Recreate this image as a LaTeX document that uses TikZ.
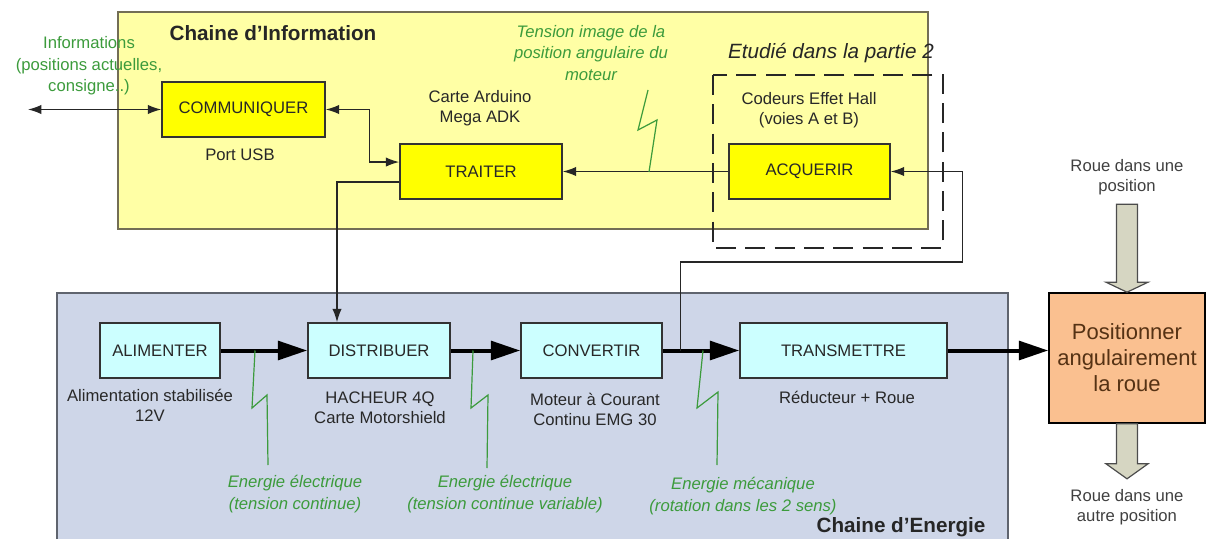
\documentclass[tikz,border=0pt]{standalone}
\usepackage{fontspec}
\setmainfont{Liberation Sans}
\usetikzlibrary{arrows.meta,calc,positioning}

\definecolor{infofill}{RGB}{255,255,165}
\definecolor{infodraw}{RGB}{115,110,85}
\definecolor{boxyellow}{RGB}{255,255,0}
\definecolor{enerfill}{RGB}{206,214,232}
\definecolor{enerdraw}{RGB}{95,100,110}
\definecolor{boxcyan}{RGB}{204,255,255}
\definecolor{boxorange}{RGB}{250,192,144}
\definecolor{txtgreen}{RGB}{60,155,60}
\definecolor{arrgray}{RGB}{214,214,194}
\definecolor{txtdark}{RGB}{40,40,40}
\definecolor{txtbrown}{RGB}{85,50,20}

\tikzset{
  func/.style={draw=black!80, line width=1.2pt, minimum height=41.25pt, inner sep=0pt,
    text=txtdark, font=\fontsize{12.5}{15}\selectfont},
  infobox/.style={func, fill=boxyellow},
  enerbox/.style={func, fill=boxcyan},
  goal/.style={draw=black, line width=1.2pt, fill=boxorange, minimum width=117pt,
    minimum height=97.5pt, align=center, text=txtbrown, font=\fontsize{16.5}{19.5}\selectfont},
  lbl/.style={align=center, text=txtdark, font=\fontsize{12.5}{15}\selectfont},
  glbl/.style={align=center, text=txtgreen, font=\fontsize{12.5}{16}\selectfont\itshape},
  chaintitle/.style={text=black!85, font=\fontsize{15.5}{18}\selectfont\bfseries},
  sig/.style={line width=1pt, draw=black!85},
  power/.style={line width=3pt, draw=black, -{Triangle[length=22pt,width=14pt]}},
  zap/.style={draw=txtgreen, line width=0.9pt},
  blockarr/.style={draw=black!70, line width=0.9pt, fill=arrgray},
}

\begin{document}
\begin{tikzpicture}[x=0.75pt, y={(0pt,-0.75pt)}, >={Latex[length=10pt,width=7pt]}]
  \useasboundingbox (0,0) rectangle (1213,539);

  % chaine d'information
  \draw[fill=infofill, draw=infodraw, line width=1.5pt] (118,12) rectangle (928,229);
  \node[chaintitle] (tinfo) at (273,33) {Chaine d'Information};

  % chaine d'energie (ouverte en bas)
  \fill[enerfill] (57,293) rectangle (1008,539);
  \draw[draw=enerdraw, line width=1.5pt] (57,539) |- (1008,293) -- (1008,539);
  \node[chaintitle] (tener) at (901,527) {Chaine d'Energie};

  % partie 2
  \draw[line width=1.6pt, dash pattern=on 15pt off 7pt, draw=black!85] (713,75) rectangle (943,248);
  \node[lbl, text=black!85, font=\fontsize{15.5}{18}\selectfont\itshape] (part) at (831,53) {Etudié dans la partie 2};

  % blocs
  \node[infobox, minimum width=122.25pt] (comm) at (243.5,109.5) {COMMUNIQUER};
  \node[infobox, minimum width=121.5pt] (traiter) at (481,171.5) {TRAITER};
  \node[infobox, minimum width=120.75pt] (acq) at (809.5,171.5) {ACQUERIR};
  \node[enerbox, minimum width=90pt] (alim) at (160,350.5) {ALIMENTER};
  \node[enerbox, minimum width=106.5pt] (distrib) at (379,350.5) {DISTRIBUER};
  \node[enerbox, minimum width=105.75pt] (conv) at (591.5,350.5) {CONVERTIR};
  \node[enerbox, minimum width=155.25pt] (trans) at (843.5,350.5) {TRANSMETTRE};
  \node[goal] (posit) at (1127,358) {Positionner\\angulairement\\la roue};

  % textes
  \node[glbl, font=\fontsize{12.5}{16}\selectfont] (infos) at (89,66) {Informations\\(positions actuelles,\\consigne..)};
  \node[lbl] (usb) at (240,155) {Port USB};
  \node[lbl] (ardu) at (480,108) {Carte Arduino\\Mega ADK};
  \node[lbl] (hall) at (809,110) {Codeurs Effet Hall\\(voies A et B)};
  \node[glbl] (tens) at (591,53) {Tension image de la\\position angulaire du\\moteur};
  \node[lbl] (alimtxt) at (150,405) {Alimentation stabilisée\\12V};
  \node[lbl] (hach) at (380,408) {HACHEUR 4Q\\Carte Motorshield};
  \node[lbl] (mcc) at (595,409) {Moteur à Courant\\Continu EMG 30};
  \node[lbl] (redu) at (847,397) {Réducteur + Roue};
  \node[glbl] (elec1) at (295,494) {Energie électrique\\(tension continue)};
  \node[glbl] (elec2) at (505,494) {Energie électrique\\(tension continue variable)};
  \node[glbl] (meca) at (743,496) {Energie mécanique\\(rotation dans les 2 sens)};
  \node[lbl, text=black!75] (rin) at (1127,177) {Roue dans une\\position};
  \node[lbl, text=black!75] (rout) at (1127,507) {Roue dans une\\autre position};

  % liaisons information
  \coordinate (ext) at (28,109.5);
  \draw[sig, <->] (ext) -- (comm.west);
  \draw[sig, <->] (comm.east) -- ++(43.5,0) |- ([yshift=7.1pt]traiter.west);
  \draw[sig, ->] ([yshift=-7.9pt]traiter.west) -| ([xshift=-31.5pt]distrib.north);
  \draw[sig, ->] (acq.west) -- (traiter.east);

  % liaisons energie
  \draw[power] (alim.east) -- (distrib.west);
  \draw[power] (distrib.east) -- (conv.west);
  \draw[power] (conv.east) -- (trans.west);
  \draw[power] (trans.east) -- (posit.west |- trans.east);

  % retour codeurs
  \coordinate (fb) at ($(conv.east)!0.23!(trans.west)$);
  \draw[sig, ->] (fb) -- ++(0,-88.5) -| ($(acq.east)+(72,0)$) -- (acq.east);

  % eclairs
  \draw[zap] (648,90) -- (638,130) -- (657,120) -- (649,172);
  \draw[zap] (255,350.5) -- (252,408) -- (267,395) -- (268,465);
  \draw[zap] (473,350.5) -- (471,408) -- (488,395) -- (487,468);
  \draw[zap] (703,350.5) -- (697,408) -- (718,392) -- (717,465);

  % roue
  \draw[blockarr] ($(posit.north)+(-10.5,-88)$) -- ++(21,0) -- ++(0,78) -- ++(10.5,0)
    -- (posit.north) -- ++(-21,-10) -- ++(10.5,0) -- cycle;
  \draw[blockarr] ($(posit.south)+(-10.5,0)$) -- ++(21,0) -- ++(0,40) -- ++(10.5,0)
    -- ++(-21,15) -- ++(-21,-15) -- ++(10.5,0) -- cycle;

\end{tikzpicture}
\end{document}
